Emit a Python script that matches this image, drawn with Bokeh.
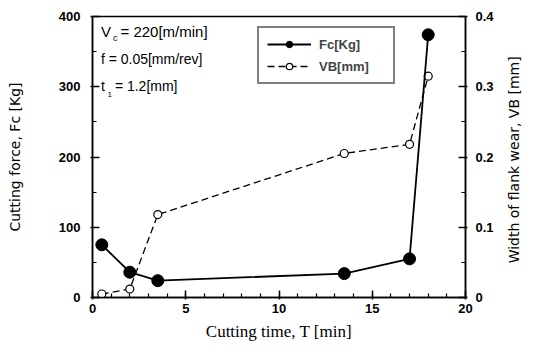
import math
from bokeh.plotting import figure
from bokeh.layouts import row
from bokeh.models import (Range1d, LinearAxis, FixedTicker, Label, Legend, LegendItem)
from bokeh.embed import file_html
from bokeh.resources import INLINE

# data
time_fc = [0.5, 2.0, 3.5, 13.5, 17.0, 18.0]
fc_kg = [75, 36, 24, 34, 55, 374]
time_vb = [0.5, 2.0, 3.5, 13.5, 17.0, 18.0]
vb_mm = [0.005, 0.012, 0.118, 0.205, 0.218, 0.315]

x_ticks = [0, 5, 10, 15, 20]
fc_ticks = [0, 100, 200, 300, 400]
vb_ticks = [0, 0.1, 0.2, 0.3, 0.4]

cond_texts = ["= 220[m/min]", "f = 0.05[mm/rev]", "= 1.2[mm]"]
right_label = "Width of flank wear, VB [mm]"

p = figure(width=505, height=341, output_backend="svg", toolbar_location=None,
           x_range=Range1d(0, 20), y_range=Range1d(0, 400),
           min_border_left=92, min_border_right=40, min_border_top=16, min_border_bottom=44)
p.frame_width = 373
p.frame_height = 281
p.xgrid.visible = False
p.ygrid.visible = False
p.outline_line_color = "black"
p.outline_line_width = 1.5
p.background_fill_color = "white"
p.border_fill_color = "white"

p.extra_y_ranges = {"vb": Range1d(0, 0.4)}

tick_font = "Liberation Sans"

def style_axis(ax, label, label_font, label_size):
    if label:
        ax.axis_label = label
    ax.axis_label_text_font = label_font
    ax.axis_label_text_font_size = label_size
    ax.axis_label_text_font_style = "normal"
    ax.axis_label_text_color = "black"
    ax.major_label_text_font = tick_font
    ax.major_label_text_font_size = "13px"
    ax.major_label_text_font_style = "bold"
    ax.major_label_text_color = "black"
    ax.axis_line_color = "black"
    ax.axis_line_width = 1.5
    ax.major_tick_in = 7
    ax.major_tick_out = 2
    ax.minor_tick_in = 4
    ax.minor_tick_out = 0
    ax.major_tick_line_width = 1.5
    ax.minor_tick_line_width = 1.2
    ax.major_tick_line_color = "black"
    ax.minor_tick_line_color = "black"

xa = p.xaxis[0]
xa.ticker = FixedTicker(ticks=x_ticks, minor_ticks=list(range(0, 21)))
style_axis(xa, "Cutting time, T [min]", "Liberation Serif", "17px")
xa.major_label_standoff = 4
xa.axis_label_standoff = 6

ya = p.yaxis[0]
ya.ticker = FixedTicker(ticks=fc_ticks, minor_ticks=list(range(0, 401, 50)))
style_axis(ya, "Cutting force, Fc [Kg]", "DejaVu Sans", "14px")
ya.major_label_standoff = 10
ya.axis_label_standoff = 33

ra = LinearAxis(y_range_name="vb")
ra.ticker = FixedTicker(ticks=vb_ticks, minor_ticks=[i * 0.05 for i in range(9)])
style_axis(ra, None, "DejaVu Sans", "12px")
ra.major_label_overrides = {0: "0", 0.1: "0.1", 0.2: "0.2", 0.3: "0.3", 0.4: "0.4"}
ra.major_label_standoff = 8
p.add_layout(ra, "right")

# lines
vb_line = p.line(time_vb, vb_mm, y_range_name="vb", line_color="black",
                 line_width=1.3, line_dash="7 4")
vb_pts = p.scatter(time_vb, vb_mm, y_range_name="vb", marker="circle", size=8,
                   fill_color="white", line_color="black", line_width=1.2)
fc_line = p.line(time_fc, fc_kg, line_color="black", line_width=1.8)
fc_pts = p.scatter(time_fc, fc_kg, marker="circle", size=12,
                   fill_color="black", line_color="black")

legend = Legend(items=[LegendItem(label="Fc[Kg]", renderers=[fc_line, fc_pts]),
                       LegendItem(label="VB[mm]", renderers=[vb_line, vb_pts])],
                location=(165, 213))
legend.border_line_color = "black"
legend.border_line_width = 2
legend.label_text_font = tick_font
legend.label_text_font_size = "13px"
legend.label_text_font_style = "bold"
legend.glyph_width = 44
legend.glyph_height = 16
legend.label_height = 16
legend.label_width = 66
legend.label_standoff = 8
legend.spacing = 6
legend.padding = 8
legend.margin = 0
legend.background_fill_alpha = 1
p.add_layout(legend, "center")

# condition text
lab_font = "Liberation Sans"
p.add_layout(Label(x=0.45, y=366, text="V", text_font=lab_font, text_font_size="15px",
                   text_color="black"))
p.add_layout(Label(x=1.1, y=362, text="c", text_font=lab_font, text_font_size="9px",
                   text_color="black"))
p.add_layout(Label(x=1.5, y=366, text=cond_texts[0], text_font=lab_font, text_font_size="15px",
                   text_color="black"))
p.add_layout(Label(x=0.45, y=328, text=cond_texts[1], text_font=lab_font, text_font_size="14px",
                   text_color="black"))
p.add_layout(Label(x=0.45, y=289, text="t", text_font=lab_font, text_font_size="14px",
                   text_color="black"))
p.add_layout(Label(x=0.8, y=285, text="1", text_font=lab_font, text_font_size="8px",
                   text_color="black"))
p.add_layout(Label(x=1.2, y=289, text=cond_texts[2], text_font=lab_font, text_font_size="14px",
                   text_color="black"))

# side strip carrying the right-axis title, reading bottom to top
side = figure(width=24, height=341, output_backend="svg", toolbar_location=None,
              x_range=Range1d(0, 1), y_range=Range1d(0, 1),
              min_border_left=0, min_border_right=0, min_border_top=16, min_border_bottom=44)
side.frame_width = 24
side.frame_height = 281
side.axis.visible = False
side.grid.visible = False
side.outline_line_color = None
side.background_fill_color = "white"
side.border_fill_color = "white"
side.add_layout(Label(x=0.35, y=0.49, text=right_label, angle=math.pi / 2,
                      text_align="center", text_baseline="middle",
                      text_font="DejaVu Sans", text_font_size="14px", text_color="black"))

layout = row(p, side, spacing=0)
open("out.html", "w").write(file_html(layout, INLINE))
